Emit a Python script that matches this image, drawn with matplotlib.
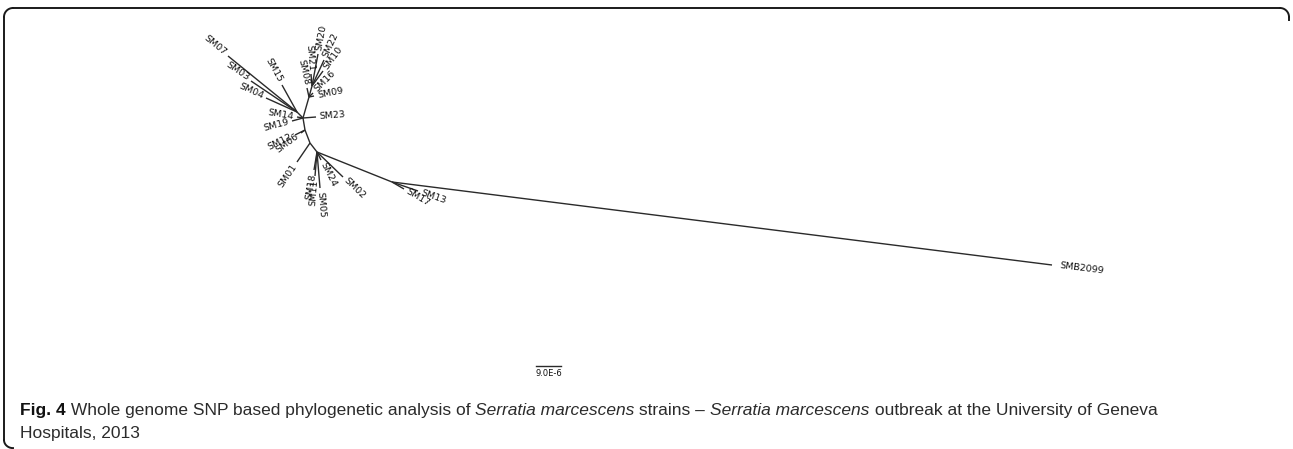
import numpy as np
import matplotlib
matplotlib.use("Agg")
import matplotlib.pyplot as plt

# Unrooted SNP tree, node positions (layout units = pixels)
node_names = ["A", "L", "SM07", "SM03", "SM04", "SM15", "SM23", "SM14", "SM19",
              "U1", "SM16", "SM09", "SM08", "U2", "SM20", "SM22", "SM10", "SM21",
              "B", "SM12", "SM06", "B2", "SM01", "C", "SM18", "SM11", "SM05",
              "SM24", "SM02", "D", "SM17", "SM13", "SMB2099"]
node_parent = [None, "A", "L", "L", "L", "L", "A", "A", "A",
               "A", "U1", "U1", "U1", "U1", "U2", "U2", "U2", "U2",
               "A", "B", "B", "B", "B2", "B2", "C", "C", "C",
               "C", "C", "C", "D", "D", "D"]
node_x = [303, 297, 228, 251, 266, 282, 316, 297, 292,
          309, 313, 314, 307, 312, 318, 324, 323, 311,
          305, 295, 301, 310, 297, 317, 314, 315, 320,
          321, 343, 392, 404, 418, 1052]
node_y = [118, 112, 56, 81, 98, 85, 117, 117, 121,
          97, 93, 96, 88, 86, 54, 60, 71, 74,
          130, 135, 133, 143, 162, 152, 170, 176, 188,
          160, 177, 182, 189, 191, 265]

scale_label = "9.0E-6"
scale_len = 25  # layout units for 9.0E-6

caption_l1 = [("Fig. 4", "normal", "bold"),
              (" Whole genome SNP based phylogenetic analysis of ", "normal", "normal"),
              ("Serratia marcescens", "italic", "normal"),
              (" strains \u2013 ", "normal", "normal"),
              ("Serratia marcescens", "italic", "normal"),
              (" outbreak at the University of Geneva", "normal", "normal")]
caption_l2 = [("Hospitals, 2013", "normal", "normal")]

W, H = 1293, 449
fig = plt.figure(figsize=(W / 100, H / 100), dpi=100)
ax = fig.add_axes([0, 0, 1, 1])
ax.set_xlim(0, W)
ax.set_ylim(H, 0)
ax.axis("off")

line_col = "#2a2a2a"
pos = {n: (x, y) for n, x, y in zip(node_names, node_x, node_y)}

# branches
for n, p in zip(node_names, node_parent):
    if p is None:
        continue
    (x0, y0), (x1, y1) = pos[p], pos[n]
    ax.plot([x0, x1], [y0, y1], color=line_col, lw=1.0, solid_capstyle="butt")

# tip labels, oriented along their branch
for n, p in zip(node_names, node_parent):
    if not n.startswith("SM"):
        continue
    (x0, y0), (x1, y1) = pos[p], pos[n]
    dx, dy = x1 - x0, y1 - y0
    d = np.hypot(dx, dy)
    ux, uy = dx / d, dy / d
    ang = np.degrees(np.arctan2(-dy, dx))
    if ang > 90 or ang < -90:
        rot, ha = (ang - 180 if ang > 0 else ang + 180), "right"
    else:
        rot, ha = ang, "left"
    off = 8 if n == "SMB2099" else 3.5
    ax.text(x1 + off * ux, y1 + off * uy, n, rotation=rot, rotation_mode="anchor",
            ha=ha, va="center", fontsize=6.8, color="#111111",
            family=["DejaVu Sans"])

# scale bar
sx, sy = 536, 366
ax.plot([sx, sx + scale_len], [sy, sy], color=line_col, lw=1.0)
ax.text(sx + scale_len / 2, sy + 3, scale_label, ha="center", va="top",
        fontsize=6.0, color="#111111", family=["DejaVu Sans"])

# rounded frame (top + left side, as cropped in the figure)
r = 9
fc = "#1a1a1a"
t = np.linspace(0, np.pi / 2, 20)
ax.plot([4 + r, W - 4 - r], [8, 8], color=fc, lw=1.4)
ax.plot(4 + r - r * np.cos(t), 8 + r - r * np.sin(t), color=fc, lw=1.4)
ax.plot(W - 4 - r + r * np.cos(t), 8 + r - r * np.sin(t), color=fc, lw=1.4)
ax.plot([W - 4, W - 4], [8 + r, 20], color=fc, lw=1.4)
ax.plot([4, 4], [8 + r, 440], color=fc, lw=1.4)
ax.plot(4 + r - r * np.cos(t), 440 + r * np.sin(t) * 0.9, color=fc, lw=1.4)

# caption with mixed styles
cap_font = ["Liberation Sans", "DejaVu Sans"]
fig.canvas.draw()
rend = fig.canvas.get_renderer()


def draw_line(segs, x, y, size):
    for s, style, weight in segs:
        tt = ax.text(x, y, s, fontsize=size, style=style, weight=weight,
                     family=cap_font, color="#2b2b2b" if weight == "normal" else "#111111",
                     ha="left", va="baseline")
        bb = tt.get_window_extent(renderer=rend)
        x += bb.width
    return x


# fit line 1 to the width it takes in the figure
size = 12.0
probe = draw_line(caption_l1, 0, -100, size)
for tx in list(ax.texts)[-len(caption_l1):]:
    tx.remove()
size = size * (1155 - 20) / probe

draw_line(caption_l1, 20, 415, size)
draw_line(caption_l2, 20, 438, size)

fig.savefig("out.png", dpi=100)
